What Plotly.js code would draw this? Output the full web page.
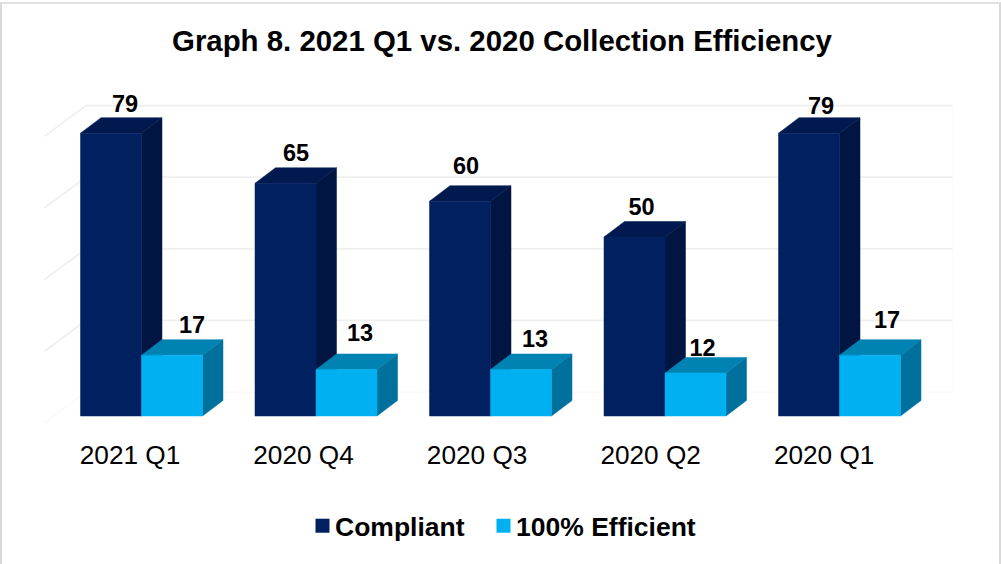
<!DOCTYPE html>
<html>
<head>
<meta charset="utf-8">
<script src="https://cdn.plot.ly/plotly-3.0.1.min.js"></script>
<style>
html,body{margin:0;padding:0;background:#fff;overflow:hidden}
#frame{position:absolute;left:0;top:2px;height:562px;box-sizing:border-box;border-left:2px solid #d9d9d9;border-right:2px solid #d9d9d9;border-top:2px solid #e2e2e2;width:1001px}
#chart{position:absolute;left:0;top:0;width:1001px;height:564px}
</style>
</head>
<body>
<div id="frame"></div>
<div id="chart"></div>
<script>
const categories = ['2021 Q1', '2020 Q4', '2020 Q3', '2020 Q2', '2020 Q1'];
const compliant = [79, 65, 60, 50, 79];
const efficient = [17, 13, 13, 12, 17];
const gridValues = [0, 20, 40, 60, 80];

// Projection settings (category units / value units)
const PX_X = 1 / 174.5, PX_Y = 1 / 3.58;
const barW = 61 * PX_X, depthX = 20.5 * PX_X, depthY = 15.5 * PX_Y;
const wallBack = -55.5 * PX_X, wallFront = -97 * PX_X, wallRight = 811.5 * PX_X;
const wallLift = 24 * PX_Y, floorDrop = -6.8 * PX_Y;

// label nudges, in pixels, from each bar's top
const compDx = [-16.5, -20, -24.5, -23.5, -18.5], compDy = [27, 28, 33, 28, 25];
const effDx = [50.5, 44, 44.5, 37.5, 47.5], effDy = [28, 34.5, 28.5, 23, 33];
const tickPos = categories.map((c, i) => i * 0.9945 - 11.5 * PX_X);

function polys(vals, left, fn) {
  const xs = [], ys = [];
  vals.forEach((v, i) => {
    fn(i + left, v).forEach(p => { xs.push(p[0]); ys.push(p[1]); });
    xs.push(null); ys.push(null);
  });
  return {x: xs, y: ys};
}
const front = (l, v) => [[l, 0], [l + barW, 0], [l + barW, v], [l, v], [l, 0]];
const top_ = (l, v) => [[l, v], [l + barW, v], [l + barW + depthX, v + depthY], [l + depthX, v + depthY], [l, v]];
const side = (l, v) => [[l + barW, 0], [l + barW + depthX, depthY], [l + barW + depthX, v + depthY], [l + barW, v], [l + barW, 0]];

function face(vals, left, fn, color) {
  const p = polys(vals, left, fn);
  return {x: p.x, y: p.y, type: 'scatter', mode: 'lines', fill: 'toself', fillcolor: color,
          line: {color: color, width: 0.5}, hoverinfo: 'skip', showlegend: false, connectgaps: false};
}

const traces = [];
gridValues.forEach((v, k) => {
  const c = k === 0 ? '#f6f6f6' : '#efefef';
  traces.push({x: [wallFront, wallBack, wallRight], y: [v + floorDrop, v + wallLift, v + wallLift],
    type: 'scatter', mode: 'lines', line: {color: c, width: k === 0 ? 1 : 1.8}, hoverinfo: 'skip', showlegend: false});
});
traces.push({x: [wallRight, wallRight], y: [wallLift, 80 + wallLift], type: 'scatter', mode: 'lines',
  line: {color: '#f8f8f8', width: 1}, hoverinfo: 'skip', showlegend: false});

traces.push(face(compliant, -barW, side, '#001541'));
traces.push(face(compliant, -barW, top_, '#001A4F'));
traces.push(face(compliant, -barW, front, '#002060'));
traces.push(face(efficient, 0, side, '#00719C'));
traces.push(face(efficient, 0, top_, '#0083B2'));
traces.push(face(efficient, 0, front, '#00B0F0'));

const lblFont = {family: 'Liberation Sans, Arial, sans-serif', size: 23.5, color: '#000', weight: 700};
traces.push({x: compliant.map((v, i) => i + compDx[i] * PX_X), y: compliant.map((v, i) => v + compDy[i] * PX_Y),
  text: compliant.map(String), type: 'scatter', mode: 'text', textposition: 'middle center',
  textfont: lblFont, hoverinfo: 'skip', showlegend: false, cliponaxis: false});
traces.push({x: efficient.map((v, i) => i + effDx[i] * PX_X), y: efficient.map((v, i) => v + effDy[i] * PX_Y),
  text: efficient.map(String), type: 'scatter', mode: 'text', textposition: 'middle center',
  textfont: lblFont, hoverinfo: 'skip', showlegend: false, cliponaxis: false});

traces.push({x: [null], y: [null], type: 'scatter', mode: 'markers', name: 'Compliant', legend: 'legend', showlegend: true,
  marker: {symbol: 'square', size: 14, color: '#002060'}, hoverinfo: 'skip'});
traces.push({x: [null], y: [null], type: 'scatter', mode: 'markers', name: '100% Efficient', legend: 'legend2', showlegend: true,
  marker: {symbol: 'square', size: 14, color: '#00B0F0'}, hoverinfo: 'skip'});

const mL = 30, mR = 40, mT = 95, mB = 127;
const legendBase = {orientation: 'h', xanchor: 'left', y: ((564 - mB) - 526) / (564 - mT - mB), yanchor: 'middle',
  font: {size: 26.5, color: '#000', weight: 700, family: 'Liberation Sans, Arial, sans-serif'}, itemwidth: 30, bgcolor: 'rgba(0,0,0,0)'};
const layout = {
  width: 1001, height: 564,
  margin: {l: mL, r: mR, t: mT, b: mB, pad: 0},
  paper_bgcolor: 'rgba(0,0,0,0)', plot_bgcolor: 'rgba(0,0,0,0)',
  font: {family: 'Liberation Sans, Arial, sans-serif', color: '#000'},
  title: {text: '<b>Graph 8. 2021 Q1 vs. 2020 Collection Efficiency</b>', x: 502 / 1001, xanchor: 'center',
          y: 1 - 41 / 564, yanchor: 'middle', font: {size: 29.4, color: '#000', family: 'Liberation Sans, Arial, sans-serif'}},
  xaxis: {range: [(mL - 141.5) * PX_X, (1001 - mR - 141.5) * PX_X], tickmode: 'array', tickvals: tickPos, ticktext: categories,
          showgrid: false, zeroline: false, showline: false, ticks: '', tickfont: {size: 26.2, color: '#000'}, fixedrange: true},
  yaxis: {range: [(416 - (564 - mB)) * PX_Y, (416 - mT) * PX_Y], visible: false, showgrid: false, zeroline: false, fixedrange: true},
  legend: Object.assign({}, legendBase, {x: (295 - mL) / (1001 - mL - mR)}),
  legend2: Object.assign({}, legendBase, {x: (476 - mL) / (1001 - mL - mR)}),
  showlegend: true
};
Plotly.newPlot('chart', traces, layout, {displayModeBar: false, staticPlot: true}).then(() => {
  // the reference keeps its legend swatches close to their labels
  document.querySelectorAll('.legendsymbols').forEach(n => n.setAttribute('transform', 'translate(7.5,0)'));
});
</script>
</body>
</html>
